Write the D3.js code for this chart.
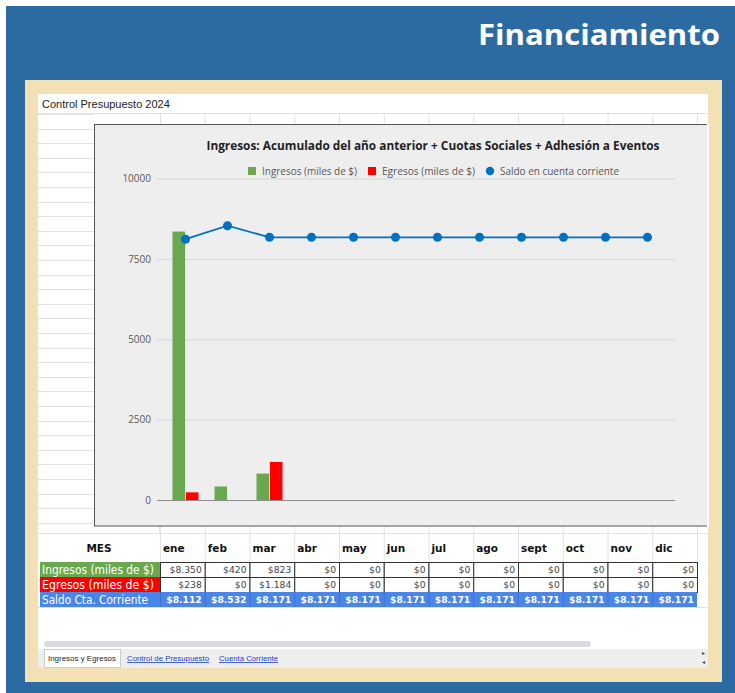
<!DOCTYPE html>
<html>
<head>
<meta charset="utf-8">
<script src="https://cdn.jsdelivr.net/npm/d3@7"></script>
<style>
  body { margin: 0; background: #fff; }
  svg { display: block; }
</style>
</head>
<body>
<div id="chart"></div>
<script>
// data
const months = ["ene", "feb", "mar", "abr", "may", "jun", "jul", "ago", "sept", "oct", "nov", "dic"];
const ingresos = [8350, 420, 823, 0, 0, 0, 0, 0, 0, 0, 0, 0];
const egresos = [238, 0, 1184, 0, 0, 0, 0, 0, 0, 0, 0, 0];
const saldo = [8112, 8532, 8171, 8171, 8171, 8171, 8171, 8171, 8171, 8171, 8171, 8171];
const yTicks = [0, 2500, 5000, 7500, 10000];
const seriesNames = ["Ingresos (miles de $)", "Egresos (miles de $)", "Saldo en cuenta corriente"];
const rowLabels = ["Ingresos (miles de $)", "Egresos (miles de $)", "Saldo Cta. Corriente"];
const tabs = ["Ingresos y Egresos", "Control de Presupuesto", "Cuenta Corriente"];

const W = 735, H = 693;
const green = "#6AA84F", red = "#FF0000", blue = "#0070C0";

const svg = d3.select("#chart").append("svg")
  .attr("width", W)
  .attr("height", H);

// page background
svg.append("rect").attr("x", 6).attr("y", 6).attr("width", W - 6).attr("height", H - 6).attr("fill", "#2C6BA1");
svg.append("text")
  .attr("x", 720).attr("y", 45)
  .attr("text-anchor", "end")
  .attr("font-family", "Open Sans, sans-serif")
  .attr("font-weight", "bold")
  .attr("font-size", 28)
  .attr("fill", "#fff")
  .attr("textLength", 242)
  .attr("lengthAdjust", "spacingAndGlyphs")
  .text("Financiamiento");

// beige frame + white sheet
svg.append("rect").attr("x", 25).attr("y", 80).attr("width", 697).attr("height", 602).attr("fill", "#F3E0B5");
svg.append("rect").attr("x", 38).attr("y", 94).attr("width", 670).attr("height", 555).attr("fill", "#fff");

svg.append("text")
  .attr("x", 42).attr("y", 108)
  .attr("font-family", "Liberation Sans, Arial, sans-serif")
  .attr("font-size", 11)
  .attr("fill", "#222")
  .text("Control Presupuesto 2024");

// sheet grid
const colX = d3.scaleBand().domain(months).range([160, 697]);
const grid = svg.append("g").attr("stroke", "#E2E2E2").attr("stroke-width", 1);
grid.append("line").attr("x1", 38).attr("x2", 708).attr("y1", 113.5).attr("y2", 113.5);
d3.range(0, 29).forEach(i => {
  const y = Math.round(114 + i * 14.6) + 0.5;
  grid.append("line").attr("x1", 38).attr("x2", 94).attr("y1", y).attr("y2", y);
});
const colEdges = months.map(m => colX(m)).concat([697]);
colEdges.forEach(x => {
  grid.append("line").attr("x1", x + 0.5).attr("x2", x + 0.5).attr("y1", 114).attr("y2", 124);
  grid.append("line").attr("x1", x + 0.5).attr("x2", x + 0.5).attr("y1", 526).attr("y2", 562);
});
grid.append("line").attr("x1", 38).attr("x2", 708).attr("y1", 533.5).attr("y2", 533.5);
grid.append("line").attr("x1", 159.5).attr("x2", 159.5).attr("y1", 526).attr("y2", 534);
grid.append("line").attr("x1", 38).attr("x2", 708).attr("y1", 607.5).attr("y2", 607.5);

// chart area
const chart = svg.append("g");
chart.append("rect")
  .attr("x", 94.5).attr("y", 124.5).attr("width", 614).attr("height", 401.5)
  .attr("fill", "#EEEEEE").attr("stroke", "#555");
// hide right border (sheet clips it)
chart.append("line").attr("x1", 708).attr("x2", 708).attr("y1", 124).attr("y2", 527).attr("stroke", "#fff").attr("stroke-width", 2);

chart.append("text")
  .attr("x", 433).attr("y", 150)
  .attr("text-anchor", "middle")
  .attr("font-family", "Open Sans, sans-serif")
  .attr("font-weight", "bold")
  .attr("font-size", 12)
  .attr("fill", "#222")
  .attr("textLength", 453)
  .attr("lengthAdjust", "spacingAndGlyphs")
  .text("Ingresos: Acumulado del año anterior + Cuotas Sociales + Adhesión a Eventos");

// scales
const x0 = d3.scaleBand().domain(months).range([164.5, 668.5]).paddingInner(0).paddingOuter(0);
const y = d3.scaleLinear().domain([0, 10000]).range([500, 178.5]);
const groupW = 26;
const x1 = d3.scaleBand().domain(["ing", "egr"]).range([0, groupW]).paddingInner(0.06);

// gridlines + y axis
const yAxis = d3.axisLeft(y).tickValues(yTicks).tickSize(-518).tickPadding(6).tickFormat(d3.format("d"));
const yG = chart.append("g").attr("transform", "translate(157,0)").call(yAxis);
yG.select(".domain").remove();
yG.selectAll(".tick line").attr("stroke", "#D6D6D6").attr("transform", "translate(0,0)");
yG.selectAll(".tick text")
  .attr("font-family", "Open Sans, sans-serif")
  .attr("font-size", 10)
  .attr("fill", "#595959");
chart.append("line").attr("x1", 157).attr("x2", 675).attr("y1", y(0) + 0.5).attr("y2", y(0) + 0.5).attr("stroke", "#8C8C8C");

// bars
const groups = chart.selectAll("g.grp")
  .data(months.map((m, i) => ({ m, ing: ingresos[i], egr: egresos[i] })))
  .join("g")
  .attr("class", "grp")
  .attr("transform", d => `translate(${x0(d.m) + (x0.bandwidth() - groupW) / 2},0)`);
groups.append("rect")
  .attr("x", x1("ing")).attr("width", x1.bandwidth())
  .attr("y", d => y(d.ing)).attr("height", d => y(0) - y(d.ing))
  .attr("fill", green);
groups.append("rect")
  .attr("x", x1("egr")).attr("width", x1.bandwidth())
  .attr("y", d => y(d.egr)).attr("height", d => y(0) - y(d.egr))
  .attr("fill", red);

// saldo line
const cx = m => x0(m) + x0.bandwidth() / 2;
const line = d3.line().x((d, i) => cx(months[i])).y(d => y(d));
chart.append("path").datum(saldo).attr("d", line).attr("fill", "none").attr("stroke", blue).attr("stroke-width", 1.8);
chart.selectAll("circle.pt").data(saldo).join("circle")
  .attr("class", "pt")
  .attr("cx", (d, i) => cx(months[i])).attr("cy", d => y(d)).attr("r", 4.5)
  .attr("fill", blue);

// legend
const legend = chart.append("g").attr("font-family", "Open Sans, sans-serif").attr("font-size", 10).attr("fill", "#595959");
const legItems = [
  { x: 248, name: seriesNames[0], color: green, shape: "rect", w: 95 },
  { x: 368, name: seriesNames[1], color: red, shape: "rect", w: 93 },
  { x: 486, name: seriesNames[2], color: blue, shape: "circle", w: 119 }
];
legItems.forEach(it => {
  if (it.shape === "rect") {
    legend.append("rect").attr("x", it.x).attr("y", 167).attr("width", 8).attr("height", 8).attr("fill", it.color);
  } else {
    legend.append("circle").attr("cx", it.x + 4).attr("cy", 171).attr("r", 4.2).attr("fill", it.color);
  }
  legend.append("text").attr("x", it.x + 14).attr("y", 174.5)
    .attr("textLength", it.w).attr("lengthAdjust", "spacingAndGlyphs")
    .text(it.name);
});

// table
const fmt = d3.formatLocale({ decimal: ",", thousands: ".", grouping: [3], currency: ["$", ""] }).format("$,d");
const table = svg.append("g");
table.append("text")
  .attr("x", 99).attr("y", 552)
  .attr("text-anchor", "middle")
  .attr("font-family", "DejaVu Sans, Verdana, sans-serif")
  .attr("font-weight", "bold").attr("font-size", 10.5).attr("fill", "#111")
  .text("MES");
table.selectAll("text.mes").data(months).join("text")
  .attr("class", "mes")
  .attr("x", d => colX(d) + 3).attr("y", 552)
  .attr("font-family", "DejaVu Sans, Verdana, sans-serif")
  .attr("font-weight", "bold").attr("font-size", 10.5).attr("fill", "#111")
  .text(d => d);

const rows = [
  { label: rowLabels[0], vals: ingresos, y: 562, bg: green },
  { label: rowLabels[1], vals: egresos, y: 577, bg: red },
  { label: rowLabels[2], vals: saldo, y: 592, bg: "#4A86E8" }
];
const rowH = 15;
rows.forEach((r, ri) => {
  const isSaldo = ri === 2;
  table.append("rect").attr("x", 40).attr("y", r.y).attr("width", isSaldo ? 657 : 120).attr("height", rowH).attr("fill", r.bg);
  table.append("text")
    .attr("x", 42).attr("y", r.y + 11.5)
    .attr("font-family", "DejaVu Sans, Verdana, sans-serif")
    .attr("font-size", 11.5).attr("fill", "#fff")
    .attr("textLength", isSaldo ? 106 : 112).attr("lengthAdjust", "spacingAndGlyphs")
    .text(r.label);
  const cells = table.append("g");
  months.forEach((m, i) => {
    if (!isSaldo) {
      cells.append("rect")
        .attr("x", colX(m) + 0.5).attr("y", r.y + 0.5)
        .attr("width", colX.bandwidth()).attr("height", rowH)
        .attr("fill", "#fff").attr("stroke", "#333").attr("stroke-width", 1);
    } else {
      cells.append("line")
        .attr("x1", colX(m) + 0.5).attr("x2", colX(m) + 0.5)
        .attr("y1", r.y).attr("y2", r.y + rowH)
        .attr("stroke", "#3D75D0");
    }
    cells.append("text")
      .attr("x", colX(m) + colX.bandwidth() - 3).attr("y", r.y + 11)
      .attr("text-anchor", "end")
      .attr("font-family", "DejaVu Sans, Verdana, sans-serif")
      .attr("font-weight", isSaldo ? "bold" : "normal")
      .attr("font-size", 9.2)
      .attr("fill", isSaldo ? "#fff" : "#444")
      .text(fmt(r.vals[i]));
  });
});

// scrollbar + tab bar
svg.append("rect").attr("x", 44).attr("y", 641).attr("width", 547).attr("height", 6).attr("rx", 3).attr("fill", "#DADCE0");
svg.append("rect").attr("x", 38).attr("y", 649).attr("width", 670).attr("height", 19).attr("fill", "#EEEEEE");
svg.append("rect").attr("x", 44.5).attr("y", 649.5).attr("width", 76).attr("height", 18).attr("fill", "#fff").attr("stroke", "#ccc");
const tabX = [48, 127, 219];
const tabW = [68, 82, 59];
tabs.forEach((t, i) => {
  svg.append("text")
    .attr("x", tabX[i]).attr("y", 661)
    .attr("font-family", "Liberation Sans, Arial, sans-serif")
    .attr("font-size", 8)
    .attr("fill", i === 0 ? "#222" : "#1a3fd0")
    .attr("text-decoration", i === 0 ? "none" : "underline")
    .attr("textLength", tabW[i]).attr("lengthAdjust", "spacingAndGlyphs")
    .text(t);
});
svg.append("text").attr("x", 702).attr("y", 655).attr("font-size", 6).attr("font-family", "DejaVu Sans").attr("fill", "#444").text("▸");
svg.append("text").attr("x", 702).attr("y", 664).attr("font-size", 6).attr("font-family", "DejaVu Sans").attr("fill", "#444").text("◂");
</script>
</body>
</html>
